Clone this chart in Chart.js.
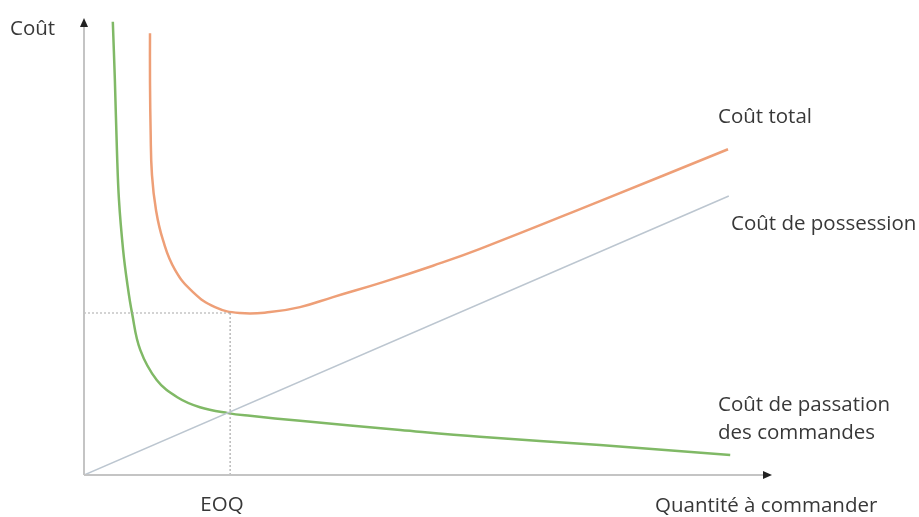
<!DOCTYPE html>
<html lang="fr">
<head>
  <meta charset="UTF-8">
  <title>EOQ</title>
  <script src="https://cdn.jsdelivr.net/npm/chart.js"></script>
  <style>
    body {
      margin: 0;
      background: #ffffff;
    }
    .wrap {
      position: relative;
      width: 919px;
      height: 517px;
    }
  </style>
</head>
<body>

  <div class="wrap">
    <canvas id="eoqChart"></canvas>
  </div>

  <script>
    // Quantité (x) et coût (y), échelle 0..100
    const passationQ = [4.2, 4.5, 4.8, 5.1, 5.7, 6.3, 7.0, 8.2, 10.6, 13.6, 16.9, 21.0, 24.2, 31.5, 46.1, 57.7, 75.2, 94.2];
    const passationC = [99.6, 86.8, 71.4, 60.4, 49.5, 42.2, 35.6, 27.5, 20.9, 17.1, 14.9, 13.6, 13.0, 11.9, 9.9, 8.4, 6.6, 4.4];

    const totalQ = [9.62, 9.62, 9.71, 9.91, 10.5, 11.52, 13.27, 15.89, 19.1, 22.74, 27.11, 31.49, 36.3, 43.59, 50.87, 57.73, 75.22, 93.88];
    const totalC = [97.1, 86.8, 75.8, 65.9, 58.2, 51.6, 45.1, 40.2, 36.9, 35.6, 35.8, 36.9, 39.1, 42.4, 46.0, 49.7, 60.2, 71.6];

    const possessionQ = [0, 94.0];
    const possessionC = [0, 61.3];

    const eoqQ = 21.3;
    const eoqC = 35.6;

    const toPoints = (xs, ys) => xs.map((x, i) => ({ x: x, y: ys[i] }));

    // Axes avec flèches et textes
    const decor = {
      id: 'decor',
      afterDatasetsDraw(chart) {
        const c = chart.ctx;
        const x0 = chart.scales.x.getPixelForValue(0);
        const y0 = chart.scales.y.getPixelForValue(0);
        const xe = chart.scales.x.getPixelForValue(100);
        const yt = chart.scales.y.getPixelForValue(100);
        c.save();

        // pointillés EOQ
        c.strokeStyle = '#a8a8a8';
        c.lineWidth = 1.2;
        c.setLineDash([2, 2]);
        const ex = chart.scales.x.getPixelForValue(eoqQ);
        const ey = chart.scales.y.getPixelForValue(eoqC);
        c.beginPath();
        c.moveTo(x0, ey);
        c.lineTo(ex, ey);
        c.moveTo(ex, ey);
        c.lineTo(ex, y0);
        c.stroke();
        c.setLineDash([]);

        // axes
        c.strokeStyle = '#c4c4c4';
        c.lineWidth = 2;
        c.beginPath();
        c.moveTo(x0, y0);
        c.lineTo(x0, yt + 4);
        c.moveTo(x0, y0);
        c.lineTo(xe - 4, y0);
        c.stroke();

        c.fillStyle = '#222';
        c.beginPath();
        c.moveTo(x0, yt - 2);
        c.lineTo(x0 - 4, yt + 7);
        c.lineTo(x0 + 4, yt + 7);
        c.closePath();
        c.fill();
        c.beginPath();
        c.moveTo(xe + 2, y0);
        c.lineTo(xe - 7, y0 - 4);
        c.lineTo(xe - 7, y0 + 4);
        c.closePath();
        c.fill();

        // textes
        c.fillStyle = '#383838';
        c.font = '20.5px "Open Sans", sans-serif';
        c.textBaseline = 'middle';
        c.textAlign = 'left';
        c.fillText('Coût', 10, 29);
        c.fillText('Coût total', 718, 117);
        c.fillText('Coût de possession', 731, 224);
        c.fillText('Coût de passation', 718, 405);
        c.fillText('des commandes', 718, 433);
        c.fillText('Quantité à commander', 655, 506);
        c.textAlign = 'center';
        c.fillText('EOQ', 222, 505);
        c.restore();
      }
    };

    new Chart(document.getElementById('eoqChart'), {
      type: 'line',
      data: {
        datasets: [
          {
            label: 'Coût total',
            data: toPoints(totalQ, totalC),
            borderColor: '#ee9f77',
            borderWidth: 2.5,
            pointRadius: 0,
            tension: 0.45
          },
          {
            label: 'Coût de possession',
            data: toPoints(possessionQ, possessionC),
            borderColor: '#bcc6d0',
            borderWidth: 1.6,
            pointRadius: 0
          },
          {
            label: 'Coût de passation des commandes',
            data: toPoints(passationQ, passationC),
            borderColor: '#80b966',
            borderWidth: 2.5,
            pointRadius: 0,
            tension: 0.4
          }
        ]
      },
      options: {
        responsive: true,
        maintainAspectRatio: false,
        animation: false,
        layout: { padding: { left: 84, right: 149, top: 20, bottom: 42 } },
        plugins: {
          legend: { display: false },
          tooltip: { enabled: false }
        },
        scales: {
          x: { type: 'linear', min: 0, max: 100, display: false },
          y: { min: 0, max: 100, display: false }
        }
      },
      plugins: [decor]
    });
  </script>

</body>
</html>
